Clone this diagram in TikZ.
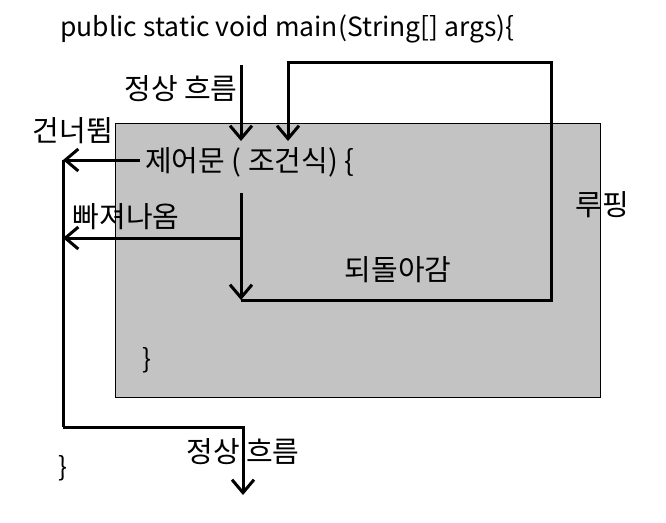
\documentclass[tikz,border=0pt]{standalone}
\usepackage{fontspec}
\setmainfont{Noto Sans CJK KR}
\usetikzlibrary{arrows.meta}

\definecolor{boxgray}{RGB}{195,195,195}

\begin{document}
\begin{tikzpicture}[x=1pt,y=-1pt,
  flow/.style={line width=3pt,-{Straight Barb[length=13pt,width=22pt,line width=3pt]}},
  wire/.style={line width=3pt},
  lbl/.style={font=\fontsize{29}{34}\selectfont,inner sep=0pt},
  code/.style={font=\fontsize{26.5}{30}\selectfont,inner sep=0pt}]
\useasboundingbox (0,0) rectangle (666,522);

\draw[fill=boxgray] (115,123) rectangle (600,397);

\node[code,anchor=base west] (title) at (60,36) {public static void main(String[] args)\{};
\node[lbl] (normalTop) at (181,89) {정상 흐름};
\node[lbl] (skip) at (73,131) {건너뜀};
\node[lbl,anchor=west] (cond) at (145,162) {제어문 ( 조건식) \{};
\node[lbl] (exit) at (126,217) {빠져나옴};
\node[lbl] (back) at (398,270) {되돌아감};
\node[lbl] (loop) at (602,205) {루핑};
\node[code] (inBrace) at (147,360) {\}};
\node[code] (outBrace) at (63,468) {\}};
\node[lbl] (normalBot) at (243,452) {정상 흐름};

\coordinate (inTop) at (241,65);
\coordinate (inTip) at (241,141);
\coordinate (condDown) at (241,193);
\coordinate (bodyEnd) at (241,300);
\coordinate (loopRight) at (551,62);
\coordinate (loopTip) at (288,141);
\coordinate (skipFrom) at (140,160);
\coordinate (skipTip) at (63,160);
\coordinate (exitFrom) at (243,238);
\coordinate (exitTip) at (63,238);
\coordinate (railBot) at (63,427);
\coordinate (outTip) at (243,495);

\draw[flow] (inTop) -- (inTip);
\draw[flow] (condDown) -- (bodyEnd);
\draw[flow] (bodyEnd) -| (loopRight) -| (loopTip);
\draw[flow] (skipFrom) -- (skipTip);
\draw[flow] (exitFrom) -- (exitTip);
\draw[wire] (skipTip) -- (railBot);
\draw[flow] (railBot) -| (outTip);
\end{tikzpicture}
\end{document}
